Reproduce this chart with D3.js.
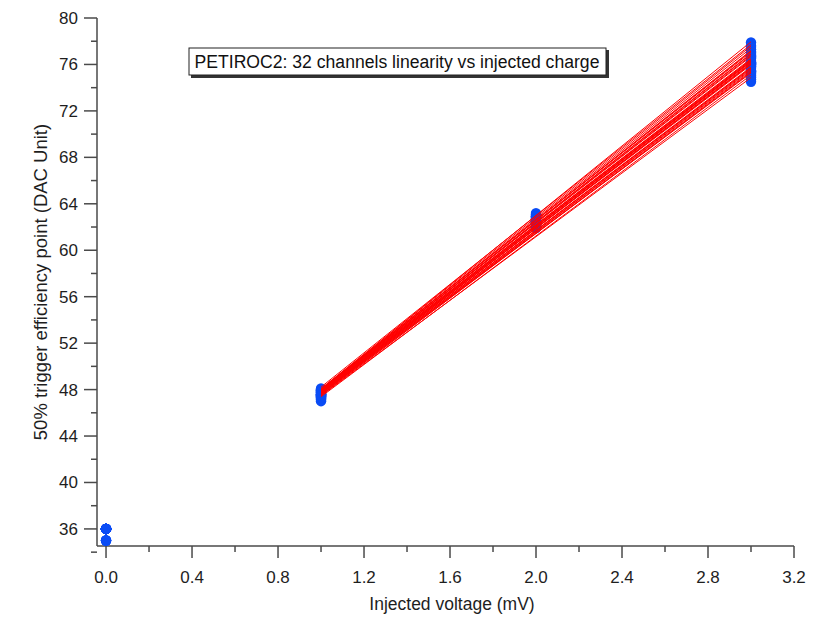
<!DOCTYPE html>
<html><head><meta charset="utf-8">
<script src="https://cdn.jsdelivr.net/npm/d3@7"></script>
<style>body{margin:0;background:#fff;font-family:Arial,"Liberation Sans",sans-serif}</style>
</head><body>
<svg id="c" width="818" height="620"></svg>
<script>
const voltages = [0, 1, 2, 3];
const xTicks = [0, 0.4, 0.8, 1.2, 1.6, 2.0, 2.4, 2.8, 3.2];
const yTicks = [36, 40, 44, 48, 52, 56, 60, 64, 68, 72, 76, 80];
// 50% trigger point per channel at each injected voltage
const ch_v0 = [36,36,35,36,36,36,35,36,36,36,35,36,36,36,36,35,36,36,36,36,36,36,35,36,36,36,36,36,36,36,36,36];
const ch_v1 = [47.6,47.9,47.2,47.8,48.0,47.5,47.3,47.7,47.9,47.4,47.1,47.6,47.8,48.1,47.5,47.0,47.7,47.3,47.9,47.6,47.4,47.8,47.2,47.5,48.0,47.6,47.3,47.7,47.9,47.4,47.8,47.5];
const ch_v2 = [62.5,62.9,62.1,62.7,63.1,62.4,62.2,62.6,62.8,62.3,61.9,62.5,62.8,63.2,62.4,62.0,62.6,62.2,62.9,62.5,62.3,62.7,62.1,62.4,63.0,62.5,62.2,62.6,62.9,62.3,62.7,62.4];
const ch_v3 = [76.0,76.9,75.1,76.5,77.9,75.8,74.9,76.2,77.1,75.4,74.5,76.1,76.7,77.6,75.7,74.7,76.3,75.2,77.3,76.0,75.5,76.6,75.0,75.9,77.5,76.1,75.3,76.2,77.0,75.4,76.8,75.8];
const fitRange = [1, 3];

const svg = d3.select("#c");
const x = d3.scaleLinear().domain([-0.042, 3.2]).range([97, 794]);
const y = d3.scaleLinear().domain([34.53, 80]).range([546, 18]);
const axisColor = "#4a4a4a", textColor = "#1e1e1e";

// x axis
const gx = svg.append("g").attr("transform", "translate(0,546)");
gx.append("line").attr("x1", 97).attr("x2", x(3.2)).attr("stroke", axisColor).attr("stroke-width", 1.5);
const xMinor = d3.range(0, 8).map(i => xTicks[i] + 0.2);
gx.selectAll(".xM").data(xTicks).join("line").attr("x1", d => x(d)).attr("x2", d => x(d)).attr("y1", 0).attr("y2", 12).attr("stroke", axisColor).attr("stroke-width", 1.5);
gx.selectAll(".xm").data(xMinor).join("line").attr("x1", d => x(d)).attr("x2", d => x(d)).attr("y1", 0).attr("y2", 6).attr("stroke", axisColor).attr("stroke-width", 1.5);
gx.selectAll(".xl").data(xTicks).join("text").attr("x", d => x(d)).attr("y", 37).attr("text-anchor", "middle").attr("font-size", 17).attr("fill", textColor).text(d => d3.format(".1f")(d));
svg.append("text").attr("x", 452).attr("y", 610).attr("text-anchor", "middle").attr("font-size", 17.5).attr("fill", textColor).text("Injected voltage (mV)");

// y axis
const gy = svg.append("g").attr("transform", "translate(97,0)");
gy.append("line").attr("y1", 18).attr("y2", 546).attr("stroke", axisColor).attr("stroke-width", 1.5);
const yMinor = yTicks.map(d => d - 2);
gy.selectAll(".yM").data(yTicks).join("line").attr("y1", d => y(d)).attr("y2", d => y(d)).attr("x1", -13).attr("x2", 0).attr("stroke", axisColor).attr("stroke-width", 1.5);
gy.selectAll(".ym").data(yMinor).join("line").attr("y1", d => y(d)).attr("y2", d => y(d)).attr("x1", -6).attr("x2", 0).attr("stroke", axisColor).attr("stroke-width", 1.5);
gy.selectAll(".yl").data(yTicks).join("text").attr("x", -19).attr("y", d => y(d) + 6).attr("text-anchor", "end").attr("font-size", 17).attr("fill", textColor).text(d => d);
svg.append("text").attr("transform", "translate(47,282) rotate(-90)").attr("text-anchor", "middle").attr("font-size", 18.5).attr("fill", textColor).text("50% trigger efficiency point (DAC Unit)");

// points
const channels = ch_v0.map((_, i) => [ch_v0[i], ch_v1[i], ch_v2[i], ch_v3[i]]);
const pts = [];
channels.forEach(c => c.forEach((v, j) => pts.push({ x: voltages[j], y: v })));
svg.append("g").selectAll("circle").data(pts).join("circle")
  .attr("cx", d => x(d.x)).attr("cy", d => y(d.y)).attr("r", 5.2).attr("fill", "#0a4cf5");

// linear fits (points at 1,2,3 mV)
const fits = channels.map(c => {
  const xs = voltages.slice(1), ys = c.slice(1);
  const mx = d3.mean(xs), my = d3.mean(ys);
  const b = d3.sum(xs, (xx, k) => (xx - mx) * (ys[k] - my)) / d3.sum(xs, xx => (xx - mx) ** 2);
  const a = my - b * mx;
  return fitRange.map(xx => [xx, a + b * xx]);
});
const line = d3.line().x(d => x(d[0])).y(d => y(d[1]));
svg.append("g").selectAll("path").data(fits).join("path")
  .attr("d", line).attr("fill", "none").attr("stroke", "#ff0000").attr("stroke-width", 1);

// title box
const tb = svg.append("g");
tb.append("rect").attr("x", 191).attr("y", 50).attr("width", 418).attr("height", 28).attr("fill", "#333");
tb.append("rect").attr("x", 189).attr("y", 48).attr("width", 417).attr("height", 27).attr("fill", "#fff").attr("stroke", "#222").attr("stroke-width", 1);
tb.append("text").attr("x", 397).attr("y", 68).attr("text-anchor", "middle").attr("font-size", 17.6).attr("fill", "#111").text("PETIROC2: 32 channels linearity vs injected charge");
</script>
</body></html>
